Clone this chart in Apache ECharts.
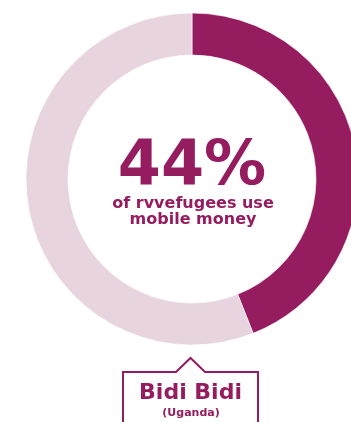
<!DOCTYPE html>
<html>
<head>
<meta charset="utf-8">
<script src="https://cdn.jsdelivr.net/npm/echarts@6/dist/echarts.min.js"></script>
<style>
  html, body { margin: 0; padding: 0; background: #ffffff; }
  #chart { width: 351px; height: 422px; }
</style>
</head>
<body>
<div id="chart"></div>
<script>
// Share of refugees using mobile money
const categories = ['Use mobile money', 'Do not use mobile money'];
const values = [44, 56];
const headline = '44%';
const captionLines = ['of rvvefugees use', 'mobile money'];
const placeName = 'Bidi Bidi';
const placeCountry = '(Uganda)';

const DARK = '#951c5f';
const LIGHT = '#e8d4df';
const FONT = '"DejaVu Sans", sans-serif';

const chart = echarts.init(document.getElementById('chart'), null, { renderer: 'canvas' });

chart.setOption({
  backgroundColor: '#ffffff',
  animation: false,
  series: [{
    type: 'pie',
    center: [192, 179],
    radius: [124, 166],
    startAngle: 90,
    clockwise: true,
    silent: true,
    label: { show: false },
    labelLine: { show: false },
    emphasis: { disabled: true },
    itemStyle: { borderColor: '#ffffff', borderWidth: 0.6 },
    data: categories.map((name, i) => ({
      name,
      value: values[i],
      itemStyle: { color: i === 0 ? DARK : LIGHT }
    }))
  }],
  graphic: [
    {
      type: 'text',
      x: 192, y: 168,
      style: {
        text: headline,
        fill: DARK,
        font: 'bold 62px ' + FONT,
        align: 'center',
        verticalAlign: 'middle'
      }
    },
    {
      type: 'text',
      x: 193, y: 212,
      style: {
        text: captionLines.join('\n'),
        fill: DARK,
        font: 'bold 16px ' + FONT,
        lineHeight: 16,
        align: 'center',
        verticalAlign: 'middle'
      }
    },
    {
      // callout box pointing up at the ring
      type: 'polyline',
      shape: {
        points: [[123, 430], [123, 372], [176, 372], [190.5, 358], [205, 372], [258, 372], [258, 430]]
      },
      style: { stroke: DARK, lineWidth: 2, fill: null }
    },
    {
      type: 'text',
      x: 190.5, y: 393,
      style: {
        text: placeName,
        fill: DARK,
        font: 'bold 22px ' + FONT,
        align: 'center',
        verticalAlign: 'middle'
      }
    },
    {
      type: 'text',
      x: 191, y: 413,
      style: {
        text: placeCountry,
        fill: DARK,
        font: 'bold 11px ' + FONT,
        align: 'center',
        verticalAlign: 'middle'
      }
    }
  ]
});
</script>
</body>
</html>
